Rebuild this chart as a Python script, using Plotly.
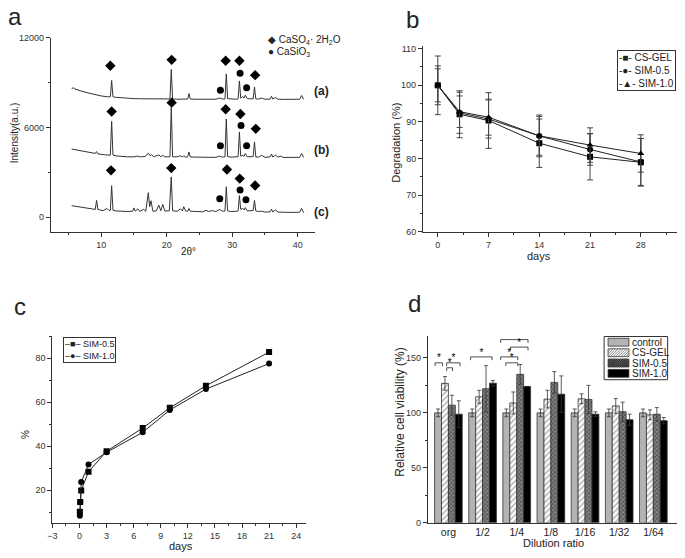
import plotly.graph_objects as go

# the page body has an 8px margin, so the figure is shifted by OFF and made smaller
OFF = 8
W, H = 685 - OFF, 558 - OFF
FONT = "Arial, Liberation Sans, sans-serif"


def px(x):
    return (x - OFF) / W


def py(y):
    return 1 - (y - OFF) / H


# ---------------- panel a : XRD patterns ----------------
xrd_a = [(5.5, 8590), (5.8, 8650), (6.0, 8560), (6.5, 8480), (7, 8420), (8, 8300), (9, 8190),
         (10, 8100), (11, 8040), (11.4, 8040), (11.6, 9130), (11.8, 8040), (12.2, 8010),
         (13, 7970), (14, 7940), (15, 7920), (16, 7910), (17, 7900), (18, 7900), (19, 7890),
         (20, 7890), (20.5, 7900), (20.7, 9870), (20.9, 7900), (21.5, 7880), (22.5, 7890),
         (23.2, 7890), (23.4, 8260), (23.6, 7890), (24.5, 7880), (25.5, 7880), (26.5, 7870),
         (27.5, 7880), (28.1, 7960), (28.5, 7890), (28.9, 7900), (29.1, 9570), (29.3, 7920),
         (29.8, 7890), (30.5, 7880), (30.9, 7900), (31.1, 9100), (31.3, 7950), (31.6, 8060),
         (31.8, 7960), (32.0, 8150), (32.3, 7920), (33.2, 7900), (33.4, 8700), (33.6, 7900),
         (34.0, 7890), (34.5, 7960), (35.0, 7880), (35.8, 7890), (36.0, 8080), (36.2, 7890),
         (36.6, 7990), (37.0, 7880), (38, 7870), (39, 7880), (40.3, 7880), (40.6, 8130),
         (40.9, 7870)]

xrd_b = [(5.5, 4550), (6.5, 4460), (7.5, 4370), (8.5, 4290), (9.1, 4260), (9.3, 4380),
         (9.5, 4230), (10.5, 4170), (11.4, 4140), (11.6, 6400), (11.8, 4150), (12.2, 4100),
         (13, 4060), (14, 4030), (15, 4030), (15.5, 4080), (16.0, 4030), (16.7, 4060),
         (17.2, 4270), (17.5, 4100), (17.7, 4180), (18.0, 4040), (18.8, 4160), (19.1, 4040),
         (19.4, 4140), (19.7, 4030), (20.5, 4040), (20.7, 7330), (20.9, 4040), (21.5, 4030),
         (22.1, 4100), (22.4, 4020), (22.6, 4110), (22.9, 4010), (23.2, 4030), (23.4, 4360),
         (23.6, 4020), (24.5, 4000), (25.5, 4000), (26.5, 4000), (27.5, 4000), (28.1, 4080),
         (28.5, 4010), (28.9, 4030), (29.1, 6560), (29.3, 4050), (29.8, 4010), (30.5, 4010),
         (30.9, 4040), (31.1, 5690), (31.3, 4080), (31.6, 4130), (31.8, 4060), (32.0, 4250),
         (32.3, 4030), (33.2, 4050), (33.4, 5030), (33.6, 4030), (34.0, 4010), (34.5, 4130),
         (35.0, 4000), (35.8, 4030), (36.0, 4220), (36.2, 4020), (36.6, 4150), (37.0, 4010),
         (37.4, 4080), (37.8, 3990), (39, 3990), (40.3, 4000), (40.6, 4260), (40.9, 3990)]

xrd_c = [(5.5, 770), (6.5, 690), (7.5, 600), (8.5, 540), (9.1, 520), (9.3, 1120), (9.5, 520),
         (10.3, 440), (10.9, 580), (11.2, 450), (11.4, 460), (11.6, 2100), (11.8, 470),
         (12.2, 420), (13, 390), (14, 380), (14.8, 400), (15.0, 620), (15.2, 400), (15.6, 560),
         (15.9, 390), (16.5, 520), (16.8, 390), (17.2, 1640), (17.4, 700), (17.6, 1100),
         (17.9, 400), (18.4, 420), (18.8, 800), (19.1, 430), (19.4, 860), (19.7, 420),
         (20.4, 420), (20.7, 2690), (20.9, 430), (21.6, 390), (22.1, 560), (22.4, 420),
         (22.6, 700), (22.9, 410), (23.2, 400), (23.4, 580), (23.6, 400), (24.5, 370),
         (25.5, 360), (26.0, 460), (26.4, 380), (27.0, 440), (27.5, 370), (28.1, 520),
         (28.5, 400), (28.9, 420), (29.1, 2030), (29.3, 430), (29.8, 380), (30.5, 390),
         (30.9, 420), (31.1, 1440), (31.3, 520), (31.6, 600), (31.8, 480), (32.0, 640),
         (32.3, 420), (33.2, 450), (33.4, 1120), (33.6, 420), (34.0, 380), (34.5, 400),
         (35.0, 340), (35.8, 360), (36.0, 540), (36.2, 350), (36.6, 480), (37.0, 340),
         (38, 320), (39, 320), (40.3, 330), (40.6, 590), (40.9, 300)]

gypsum_x = [11.4, 20.76, 29.0, 31.1, 33.5, 11.6, 20.76, 29.0, 31.25, 33.6, 11.5, 20.7, 29.2, 31.15, 33.5]
gypsum_y = [10120, 10510, 10450, 10450, 9490, 7060, 7650, 7210, 6890, 5900, 3130, 3280, 3190, 2580, 2120]
casio3_x = [28.2, 31.2, 32.2, 28.2, 31.35, 32.2, 28.1, 31.2, 32.1]
casio3_y = [8480, 9620, 8640, 4770, 6120, 4770, 1230, 1810, 1160]

# ---------------- panel b : degradation ----------------
deg_days = [0, 3, 7, 14, 21, 28]
deg_cs_gel = [100, 92.1, 90.4, 84.2, 80.5, 79.0]
deg_sim05 = [100, 92.5, 90.8, 86.2, 82.5, 79.1]
deg_sim10 = [100, 92.8, 91.3, 86.2, 83.7, 81.4]
deg_cs_gel_err = [8.0, 6.4, 7.6, 6.6, 6.3, 6.5]
deg_sim05_err = [5.3, 5.6, 5.2, 5.3, 4.3, 6.4]
deg_sim10_err = [4.5, 4.3, 4.9, 5.7, 4.7, 5.1]

# ---------------- panel c : release ----------------
rel_days = [0.04, 0.08, 0.19, 1, 3, 7, 10, 14, 21]
rel_sim05 = [10.2, 14.7, 19.9, 28.4, 37.7, 48.2, 57.4, 67.4, 82.7]
rel_sim10 = [8.4, 14.6, 23.7, 31.7, 37.2, 46.3, 56.4, 65.9, 77.5]

# ---------------- panel d : cell viability ----------------
dilution = ["org", "1/2", "1/4", "1/8", "1/16", "1/32", "1/64"]
via_control = [100, 100, 100, 100, 100, 100, 100]
via_cs_gel = [126.8, 114.6, 109.0, 112.5, 112.8, 106.3, 98.2]
via_sim05 = [107.0, 122.0, 135.0, 127.7, 112.2, 101.0, 98.8]
via_sim10 = [98.8, 127.0, 124.0, 117.0, 98.8, 93.8, 92.9]
via_control_err = [3.5, 3.5, 3.5, 3.5, 3.5, 3.5, 3.5]
via_cs_gel_err = [6.2, 5.9, 10.0, 8.0, 4.5, 6.7, 4.5]
via_sim05_err = [9.0, 20.9, 9.0, 9.8, 12.8, 8.8, 6.0]
via_sim10_err = [12.2, 2.5, 0.0, 16.6, 2.2, 5.0, 2.9]
# significance brackets: (x start, x end, height) in group-index units / %
sig_brackets = [(-0.39, -0.17, 145.5), (-0.05, 0.34, 145.5), (-0.05, 0.12, 141.0),
                (0.65, 1.28, 150.9), (1.53, 2.33, 166.6), (1.82, 2.33, 159.8),
                (1.53, 2.03, 150.9), (1.68, 2.03, 145.5)]

LINE = "#222"

fig = go.Figure()

# panel a traces
for pts in (xrd_a, xrd_b, xrd_c):
    fig.add_trace(go.Scatter(x=[p[0] for p in pts], y=[p[1] for p in pts], mode="lines",
                             line=dict(color="#333", width=1), showlegend=False,
                             xaxis="x", yaxis="y"))
fig.add_trace(go.Scatter(x=gypsum_x, y=gypsum_y, mode="markers",
                         marker=dict(symbol="diamond", size=8, color="black"),
                         showlegend=False, xaxis="x", yaxis="y"))
fig.add_trace(go.Scatter(x=casio3_x, y=casio3_y, mode="markers",
                         marker=dict(symbol="circle", size=7, color="black"),
                         showlegend=False, xaxis="x", yaxis="y"))

# panel b traces
for vals, err, sym in ((deg_cs_gel, deg_cs_gel_err, "square"),
                       (deg_sim05, deg_sim05_err, "circle"),
                       (deg_sim10, deg_sim10_err, "triangle-up")):
    fig.add_trace(go.Scatter(x=deg_days, y=vals, mode="lines+markers",
                             line=dict(color=LINE, width=1),
                             marker=dict(symbol=sym, size=6, color="black"),
                             error_y=dict(type="data", array=err, color="#444",
                                          thickness=1, width=3),
                             showlegend=False, xaxis="x2", yaxis="y2"))

# panel c traces
for vals, sym in ((rel_sim05, "square"), (rel_sim10, "circle")):
    fig.add_trace(go.Scatter(x=rel_days, y=vals, mode="lines+markers",
                             line=dict(color=LINE, width=1),
                             marker=dict(symbol=sym, size=6, color="black"),
                             showlegend=False, xaxis="x3", yaxis="y3"))

# panel d traces
idx = list(range(len(dilution)))
bar_line = dict(color="#333", width=0.8)
err_style = dict(color="#333", thickness=0.8, width=2)
fig.add_trace(go.Bar(x=idx, y=via_control, name="control",
                     marker=dict(color="#b3b3b3", line=bar_line),
                     error_y=dict(type="data", array=via_control_err, **err_style),
                     showlegend=False, xaxis="x4", yaxis="y4"))
fig.add_trace(go.Bar(x=idx, y=via_cs_gel, name="CS-GEL",
                     marker=dict(color="white", line=bar_line,
                                 pattern=dict(shape="/", fgcolor="#555", bgcolor="white",
                                              size=4, solidity=0.35)),
                     error_y=dict(type="data", array=via_cs_gel_err, **err_style),
                     showlegend=False, xaxis="x4", yaxis="y4"))
fig.add_trace(go.Bar(x=idx, y=via_sim05, name="SIM-0.5",
                     marker=dict(color="#7a7a7a", line=bar_line,
                                 pattern=dict(shape="x", fgcolor="#1a1a1a", bgcolor="#8a8a8a",
                                              size=3, solidity=0.5)),
                     error_y=dict(type="data", array=via_sim05_err, **err_style),
                     showlegend=False, xaxis="x4", yaxis="y4"))
fig.add_trace(go.Bar(x=idx, y=via_sim10, name="SIM-1.0",
                     marker=dict(color="black", line=bar_line),
                     error_y=dict(type="data", array=via_sim10_err, **err_style),
                     showlegend=False, xaxis="x4", yaxis="y4"))

# significance brackets and stars
bx, by = [], []
for x0, x1, yb in sig_brackets:
    bx += [x0, x0, x1, x1, None]
    by += [yb - 3, yb, yb, yb - 3, None]
fig.add_trace(go.Scatter(x=bx, y=by, mode="lines", line=dict(color="#222", width=0.8),
                         showlegend=False, xaxis="x4", yaxis="y4"))
fig.add_trace(go.Scatter(x=[(b[0] + b[1]) / 2 for b in sig_brackets],
                         y=[b[2] + 3.5 for b in sig_brackets],
                         mode="text", text=["*"] * len(sig_brackets),
                         textfont=dict(size=10, color="black", family=FONT),
                         showlegend=False, xaxis="x4", yaxis="y4"))

shapes = []
annotations = []


# axes
def axis(**kw):
    base = dict(showline=True, linecolor="#333", linewidth=1, ticks="outside", ticklen=4,
                tickwidth=1, tickcolor="#333", showgrid=False, zeroline=False,
                tickfont=dict(size=9, color="#333", family=FONT), mirror=False)
    base.update(kw)
    return base


def minor(d):
    return dict(ticks="outside", ticklen=2, tickcolor="#333", dtick=d)


fig.update_layout(
    xaxis=axis(domain=[px(46), px(312)], range=[2.3, 42.6], anchor="y",
               tickvals=[10, 20, 30, 40], minor=minor(5)),
    yaxis=axis(domain=[py(231), py(33)], range=[-985, 12000], anchor="x",
               tickvals=[0, 6000, 12000], tickformat="d", minor=minor(3000)),
    xaxis2=axis(domain=[px(421), px(677)], range=[-2.05, 33], anchor="y2",
                tickvals=[0, 7, 14, 21, 28], minor=minor(3.5)),
    yaxis2=axis(domain=[py(231), py(41.7)], range=[60, 110.7], anchor="x2",
                dtick=10, minor=minor(5)),
    xaxis3=axis(domain=[px(47.7), px(303.3)], range=[-3, 25.1], anchor="y3",
                dtick=3, tick0=0, minor=minor(1.5)),
    yaxis3=axis(domain=[py(527.3), py(337)], range=[5.2, 90], anchor="x3",
                tickvals=[20, 40, 60, 80], minor=minor(10)),
    xaxis4=axis(domain=[px(426), px(681.7)], range=[-0.6, 6.83], anchor="y4",
                tickvals=idx, ticktext=dilution, ticks="",
                tickfont=dict(size=10.5, color="#222", family=FONT)),
    yaxis4=axis(domain=[py(527.3), py(337.3)], range=[0, 169.6], anchor="x4",
                tickvals=[0, 50, 100, 150], minor=minor(25)),
    barmode="group", bargap=0.19, bargroupgap=0,
)


def note(x, y, text, size=10, angle=0, xanchor="center", yanchor="middle", **kw):
    annotations.append(dict(x=px(x), y=py(y), xref="paper", yref="paper", text=text,
                            showarrow=False, textangle=angle, xanchor=xanchor,
                            yanchor=yanchor, font=dict(size=size, color="#222", family=FONT),
                            **kw))


# panel a
note(263, 35, "◆ CaSO<sub>4</sub>· 2H<sub>2</sub>O", size=10, xanchor="left")
note(263, 48, "● CaSiO<sub>3</sub>", size=10, xanchor="left")
note(319, 87, "<b>(a)</b>", size=12)
note(319, 148, "<b>(b)</b>", size=12)
note(319, 211, "<b>(c)</b>", size=12)
note(9.5, 130, "Intensity(a.u.)", size=10, angle=-90)
note(185, 251, "2θ°", size=10)
note(10, 12, "a", size=24)

# panel b
note(393, 140, "Degradation (%)", size=11, angle=-90)
note(538, 255, "days", size=11)
note(410, 15, "b", size=24)
note(616, 46, "-■- CS-GEL<br>-●- SIM-0.5<br>-▲- SIM-1.0", size=10, xanchor="left",
     yanchor="top", align="left", bordercolor="#333", borderwidth=1, borderpad=1)

# panel c
note(20, 437, "%", size=10, angle=-90)
note(177, 551, "days", size=11)
note(15, 307, "c", size=24)
note(58, 338, "–■– SIM-0.5<br>–●– SIM-1.0", size=9, xanchor="left",
     yanchor="top", align="left", bordercolor="#333", borderwidth=1, borderpad=1)

# panel d
note(397, 415, "Relative cell viability (%)", size=12, angle=-90)
note(553, 548, "Dilution ratio", size=11)
note(412, 304, "d", size=24)

# panel d legend: box, swatches, labels
shapes.append(dict(type="rect", xref="paper", yref="paper", x0=px(603.5), x1=px(667.5),
                   y0=py(381.5), y1=py(337.5), line=dict(color="#333", width=1)))
rows = [343.3, 354, 364.5, 375]
labels = ["control", "CS-GEL", "SIM-0.5", "SIM-1.0"]
fills = ["#b3b3b3", "white", "#6e6e6e", "black"]
sx0, sx1 = 607.5, 628.5
for r, lab, fc in zip(rows, labels, fills):
    shapes.append(dict(type="rect", xref="paper", yref="paper", x0=px(sx0), x1=px(sx1),
                       y0=py(r + 4), y1=py(r - 4), fillcolor=fc,
                       line=dict(color="#333", width=0.8)))
    note(630, r, lab, size=10, xanchor="left")


def hatch(r, step, direction, color):
    y_top, y_bot = r - 4, r + 4
    h = y_bot - y_top
    segs = []
    u = sx0 - h
    while u < sx1:
        a_x, b_x = u, u + h
        a_y, b_y = y_bot, y_top
        if a_x < sx0:
            a_y = y_bot - (sx0 - a_x)
            a_x = sx0
        if b_x > sx1:
            b_y = y_top + (b_x - sx1)
            b_x = sx1
        if direction < 0:
            a_x, b_x = sx0 + sx1 - a_x, sx0 + sx1 - b_x
        segs.append(f"M{px(a_x)},{py(a_y)} L{px(b_x)},{py(b_y)}")
        u += step
    return dict(type="path", xref="paper", yref="paper", path=" ".join(segs),
                line=dict(color=color, width=0.7))


shapes.append(hatch(rows[1], 2.6, 1, "#555"))
shapes.append(hatch(rows[2], 2.2, 1, "#222"))
shapes.append(hatch(rows[2], 2.2, -1, "#222"))

fig.update_layout(
    width=W, height=H, margin=dict(l=0, r=0, t=0, b=0),
    paper_bgcolor="white", plot_bgcolor="white",
    font=dict(family=FONT, color="#222"),
    shapes=shapes, annotations=annotations, showlegend=False,
)

fig.write_html("out.html")
